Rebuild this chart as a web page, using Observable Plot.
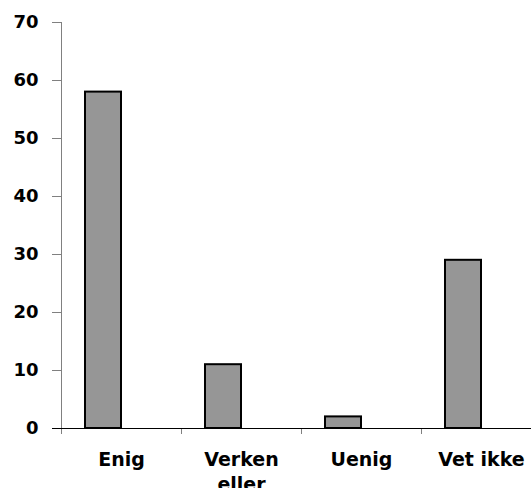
<!DOCTYPE html>
<html>
<head>
<meta charset="utf-8">
<script src="https://cdn.jsdelivr.net/npm/d3@7"></script>
<script src="https://cdn.jsdelivr.net/npm/@observablehq/plot@0.6"></script>
<style>
  html, body { margin: 0; padding: 0; background: #ffffff; overflow: hidden; }
  #chart svg { display: block; }
</style>
</head>
<body>
<div id="chart"></div>
<script>
const categories = ["Enig", "Verken eller", "Uenig", "Vet ikke"];
const values = [58, 11, 2, 29];
const xTickLabels = ["Enig", "Verken\neller", "Uenig", "Vet ikke"];
const yTicks = [0, 10, 20, 30, 40, 50, 60, 70];

const data = categories.map((c, i) => ({category: c, value: values[i]}));

const W = 531, H = 488;
const mL = 61, mR = -10, mT = 22, mB = 60;
const bw = (W - mL - mR) / categories.length;
const gray = "#808080";

const chart = Plot.plot({
  width: W,
  height: H,
  marginLeft: mL,
  marginRight: mR,
  marginTop: mT,
  marginBottom: mB,
  style: {fontFamily: "DejaVu Sans", fontWeight: "bold", background: "#ffffff", color: "#000000"},
  x: {domain: categories, padding: 0, label: null},
  y: {domain: [0, 70], label: null},
  marks: [
    Plot.barY(data, {x: "category", y: "value", fill: "#969696", stroke: "#000000", strokeWidth: 2, insetLeft: 24, insetRight: 60}),
    Plot.axisY({ticks: yTicks, tickSize: 9, tickPadding: 14, stroke: gray, fill: "#000000", fontSize: 18, label: null}),
    Plot.ruleX([categories[0]], {dx: -bw / 2, stroke: gray, insetBottom: -6}),
    Plot.axisX({tickSize: 6, stroke: gray, fill: "none", dx: -bw / 2, label: null}),
    Plot.axisX({tickSize: 0, tickPadding: 20, fill: "#000000", fontSize: 19, lineHeight: 1.3,
      tickFormat: d => xTickLabels[categories.indexOf(d)], label: null}),
    Plot.ruleY([0], {stroke: "#000000", insetLeft: -9})
  ]
});
document.getElementById("chart").appendChild(chart);
</script>
</body>
</html>
